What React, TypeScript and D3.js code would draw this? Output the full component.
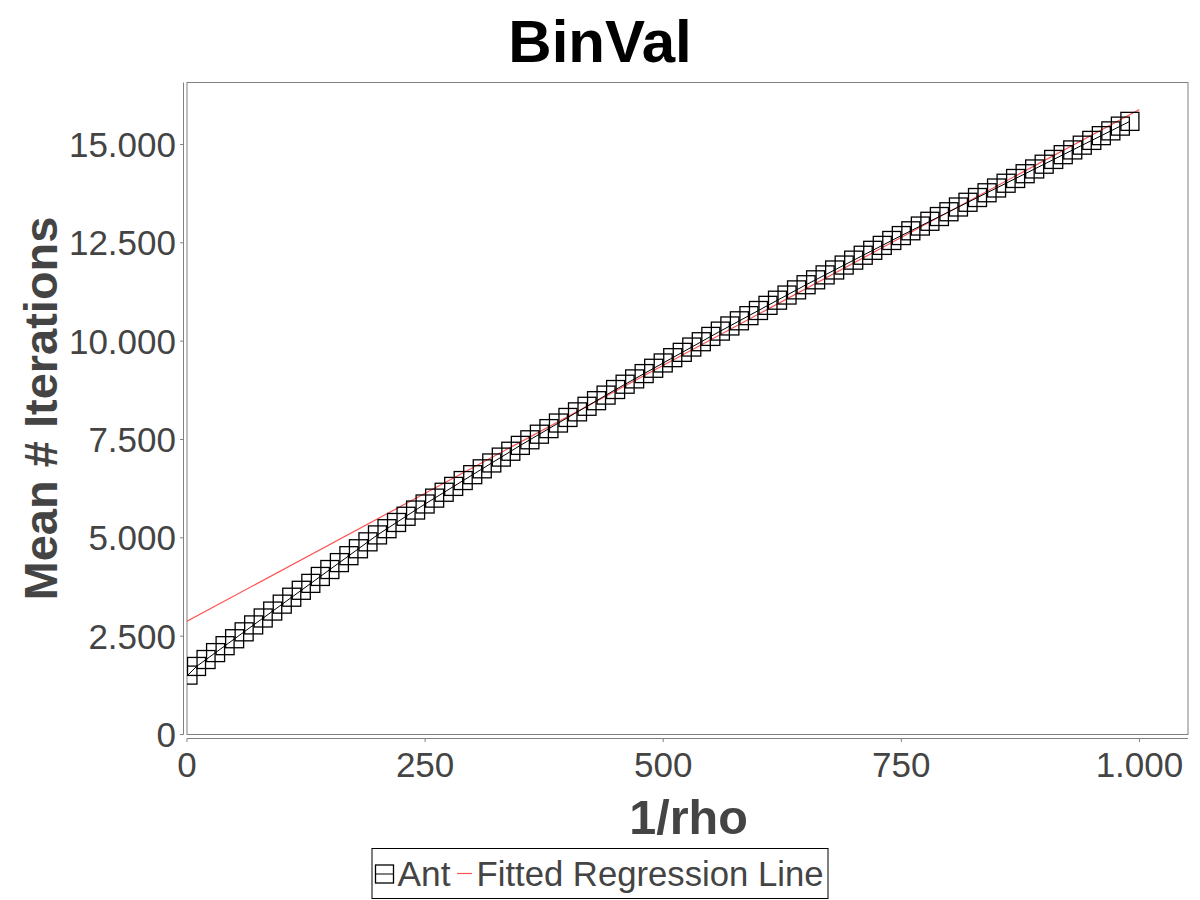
import React from "react";
import * as d3 from "d3";

const title = "BinVal";
const xLabel = "1/rho";
const yLabel = "Mean # Iterations";
const seriesName = "Ant";
const fitName = "Fitted Regression Line";

const rhoInv = [1,10,20,30,40,50,60,70,80,90,100,110,120,130,140,150,160,170,180,190,200,210,220,230,240,250,260,270,280,290,300,310,320,330,340,350,360,370,380,390,400,410,420,430,440,450,460,470,480,490,500,510,520,530,540,550,560,570,580,590,600,610,620,630,640,650,660,670,680,690,700,710,720,730,740,750,760,770,780,790,800,810,820,830,840,850,860,870,880,890,900,910,920,930,940,950,960,970,980,990];
const meanIter = [1510,1730,1906,2082,2258,2434,2610,2786,2962,3138,3314,3490,3666,3842,4018,4194,4370,4546,4722,4898,5074,5232,5390,5548,5706,5860,6009,6158,6307,6456,6605,6754,6903,7052,7201,7350,7492,7634,7776,7918,8060,8202,8344,8486,8628,8770,8905,9040,9175,9310,9445,9580,9715,9850,9985,10120,10255,10386,10517,10648,10779,10910,11041,11172,11303,11434,11559,11684,11809,11934,12059,12184,12309,12434,12559,12684,12805,12926,13047,13168,13289,13410,13530,13651,13772,13893,14014,14135,14256,14377,14498,14619,14740,14861,14982,15103,15224,15345,15466,15587];

const fitX = [0, 1000];
const fitY = [2880, 15890];

const xTicks = [0, 250, 500, 750, 1000];
const yTicks = [0, 2500, 5000, 7500, 10000, 12500, 15000];

const locale = d3.formatLocale({ decimal: ",", thousands: ".", grouping: [3], currency: ["", "€"] });
const fmt = locale.format(",d");

export default function App() {
  const left = 187, right = 1188, top = 82.5, bottom = 734.5;
  const x = d3.scaleLinear().domain([0, 1051]).range([left, right]);
  const y = d3.scaleLinear().domain([0, 16575]).range([bottom, top]);
  const pts = rhoInv.map((v, i) => [v, meanIter[i]] as [number, number]);
  const line = d3.line<[number, number]>().x(d => x(d[0])).y(d => y(d[1]));
  const fitPts = fitX.map((v, i) => [v, fitY[i]] as [number, number]);
  const font = "'Liberation Sans', Arial, sans-serif";
  const grey = "#444444";
  const axisCol = "#808080";
  const ms = 18;
  return (
    <svg width={1200} height={900} style={{ position: "absolute", left: 0, top: 0, background: "#fff" }} fontFamily={font}>
      <defs>
        <clipPath id="plotclip">
          <rect x={left} y={top} width={right - left} height={bottom - top} />
        </clipPath>
      </defs>
      <text x={600} y={62} textAnchor="middle" fontSize={60} fontWeight="bold" fill="#000">{title}</text>
      <rect x={left} y={top} width={right - left} height={bottom - top} fill="#fff" stroke={axisCol} strokeWidth={1} />
      <g clipPath="url(#plotclip)">
        <path d={line(fitPts) || ""} fill="none" stroke="#ff5555" strokeWidth={1.2} />
        <path d={line(pts) || ""} fill="none" stroke="#000" strokeWidth={1} />
        {pts.map((p, i) => (
          <rect key={i} x={x(p[0]) - ms / 2} y={y(p[1]) - ms / 2} width={ms} height={ms} fill="none" stroke="#000" strokeWidth={1.3} />
        ))}
      </g>
      {/* y axis */}
      <line x1={183.5} x2={183.5} y1={top} y2={bottom} stroke={axisCol} strokeWidth={1} />
      {yTicks.map(t => (
        <g key={t}>
          <line x1={180} x2={183.5} y1={y(t)} y2={y(t)} stroke={axisCol} />
          <text x={176} y={y(t)} dy="0.36em" textAnchor="end" fontSize={35} fill={grey}>{fmt(t)}</text>
        </g>
      ))}
      {/* x axis */}
      <line x1={left} x2={right} y1={738.5} y2={738.5} stroke={axisCol} strokeWidth={1} />
      {xTicks.map(t => (
        <g key={t}>
          <line x1={x(t)} x2={x(t)} y1={738.5} y2={742} stroke={axisCol} />
          <text x={x(t)} y={777} textAnchor="middle" fontSize={35} fill={grey}>{fmt(t)}</text>
        </g>
      ))}
      <text x={(left + right) / 2 + 1} y={834} textAnchor="middle" fontSize={48.5} fontWeight="bold" fill={grey}>{xLabel}</text>
      <text transform={`translate(57, ${(top + bottom) / 2}) rotate(-90)`} textAnchor="middle" fontSize={47} fontWeight="bold" fill={grey}>{yLabel}</text>
      {/* legend */}
      <rect x={372} y={848.5} width={456} height={50} fill="#fff" stroke="#000" strokeWidth={1} />
      <rect x={375.5} y={865} width={18} height={18} fill="none" stroke="#000" strokeWidth={1.3} />
      <line x1={375.5} x2={393.5} y1={874} y2={874} stroke="#000" strokeWidth={1} />
      <text x={397.5} y={886} fontSize={34.5} fill={grey} textLength={53} lengthAdjust="spacingAndGlyphs">{seriesName}</text>
      <line x1={457} x2={472} y1={873.5} y2={873.5} stroke="#ff5555" strokeWidth={1.2} />
      <text x={476.5} y={886} fontSize={34.5} fill={grey} textLength={347} lengthAdjust="spacingAndGlyphs">{fitName}</text>
    </svg>
  );
}
